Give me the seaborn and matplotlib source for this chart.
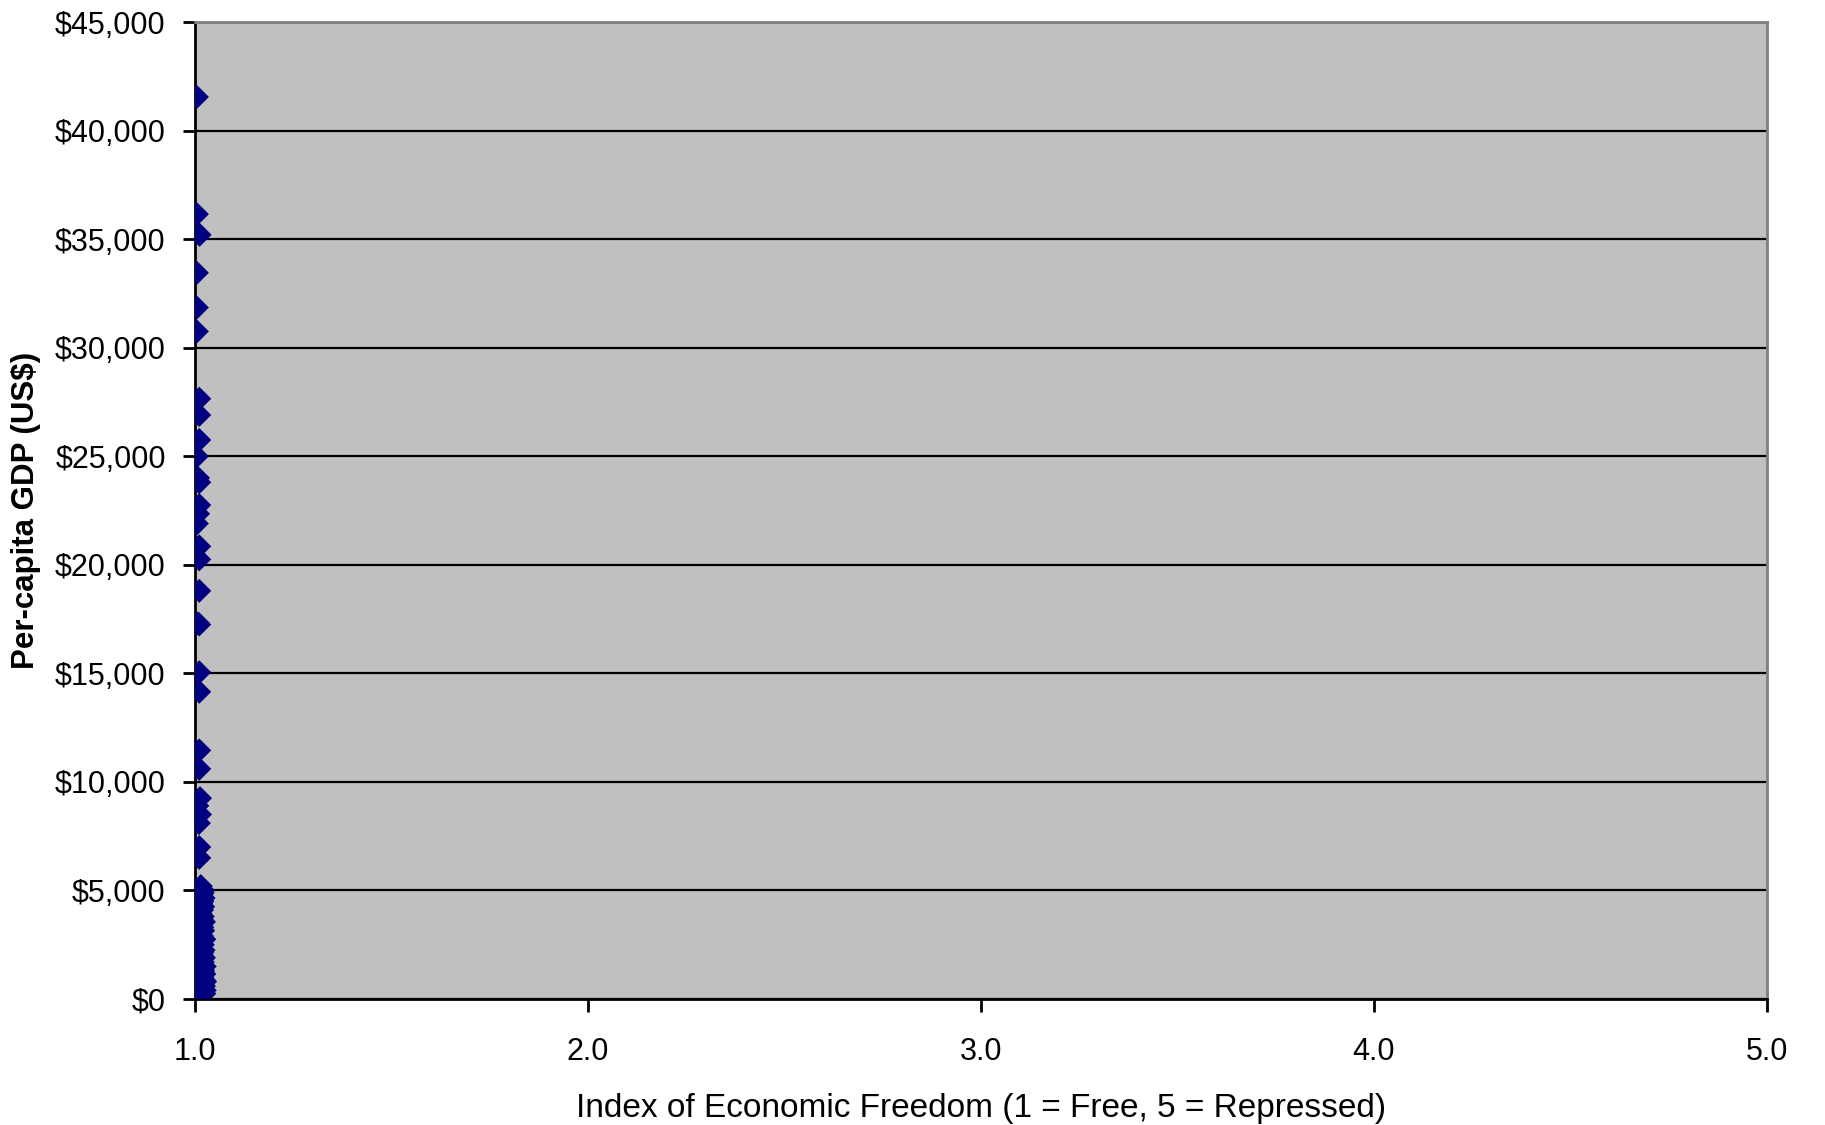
import numpy as np
import pandas as pd
import seaborn as sns
import matplotlib.pyplot as plt
from matplotlib.ticker import FuncFormatter

# per-capita GDP (US$), top to bottom
gdp = [41550, 36150, 35200, 33450, 31850, 30750, 27650, 26900, 25750, 25000,
       24000, 23800, 22750, 22350, 21900, 20850, 20250, 18800, 17300, 17250,
       15050, 14150, 11450, 10600, 9250, 8900, 8500, 8100, 7000, 6500,
       5200, 5050, 4900, 4800, 4650, 4500, 4400, 4250, 4100, 3950,
       3800, 3700, 3550, 3400, 3300, 3150, 3000, 2900, 2750, 2600,
       2500, 2400, 2250, 2150, 2050, 1900, 1800, 1700, 1600, 1500,
       1400, 1300, 1250, 1150, 1050, 950, 900, 800, 750, 650,
       600, 550, 450, 400, 350, 300, 250, 200]

# freedom index values as plotted (all squeezed next to 1.0)
freedom = [1.005, 1.005, 1.012, 1.005, 1.005, 1.005, 1.011, 1.011, 1.011, 1.005,
           1.008, 1.011, 1.011, 1.008, 1.005, 1.011, 1.011, 1.011, 1.008, 1.011,
           1.011, 1.011, 1.011, 1.011, 1.013, 1.006, 1.013, 1.010, 1.011, 1.011,
           1.015, 1.018, 1.020, 1.017, 1.022, 1.019, 1.016, 1.021, 1.018, 1.014,
           1.020, 1.017, 1.023, 1.015, 1.019, 1.021, 1.013, 1.018, 1.024, 1.016,
           1.020, 1.014, 1.022, 1.019, 1.017, 1.023, 1.015, 1.020, 1.018, 1.025,
           1.013, 1.021, 1.017, 1.024, 1.019, 1.015, 1.022, 1.026, 1.018, 1.014,
           1.023, 1.020, 1.017, 1.025, 1.021, 1.019, 1.024, 1.017]

df = pd.DataFrame({'freedom': freedom, 'gdp': gdp})

sns.set_style('white')
plt.rcParams['font.family'] = ['Liberation Sans', 'DejaVu Sans']
plt.rcParams['text.color'] = 'black'
plt.rcParams['axes.labelcolor'] = 'black'

fig = plt.figure(figsize=(18.25, 11.25), dpi=100)
ax = fig.add_axes([0.1068, 0.112, 0.8614, 0.8684])
ax.set_facecolor('#c0c0c0')

sns.scatterplot(data=df, x='freedom', y='gdp', marker='D', s=150,
                color='#000080', edgecolor='none', ax=ax, zorder=3)

ax.set_xlim(1.0, 5.0)
ax.set_ylim(0, 45000)
ax.set_xticks([1.0, 2.0, 3.0, 4.0, 5.0])
ax.set_xticklabels(['1.0', '2.0', '3.0', '4.0', '5.0'])
ax.set_yticks(np.arange(0, 45001, 5000))
ax.yaxis.set_major_formatter(FuncFormatter(lambda v, p: f'${v:,.0f}'))

ax.set_axisbelow(True)
ax.yaxis.grid(True, color='black', linewidth=1.6)
ax.xaxis.grid(False)

for side in ['left', 'bottom']:
    ax.spines[side].set_color('black')
    ax.spines[side].set_linewidth(2)
for side in ['top', 'right']:
    ax.spines[side].set_color('#808080')
    ax.spines[side].set_linewidth(2)

ax.tick_params(axis='both', direction='out', length=9, width=2, color='black',
               labelsize=22, labelcolor='black')
ax.tick_params(axis='y', pad=12)
ax.tick_params(axis='x', pad=18)
ax.tick_params(left=True, bottom=True)

ax.set_xlabel('Index of Economic Freedom (1 = Free, 5 = Repressed)', fontsize=24,
              labelpad=19, color='black')
ax.set_ylabel('Per-capita GDP (US$)', fontsize=22.5, fontweight='bold', labelpad=10,
              color='black')

fig.savefig('out.png', dpi=100)
